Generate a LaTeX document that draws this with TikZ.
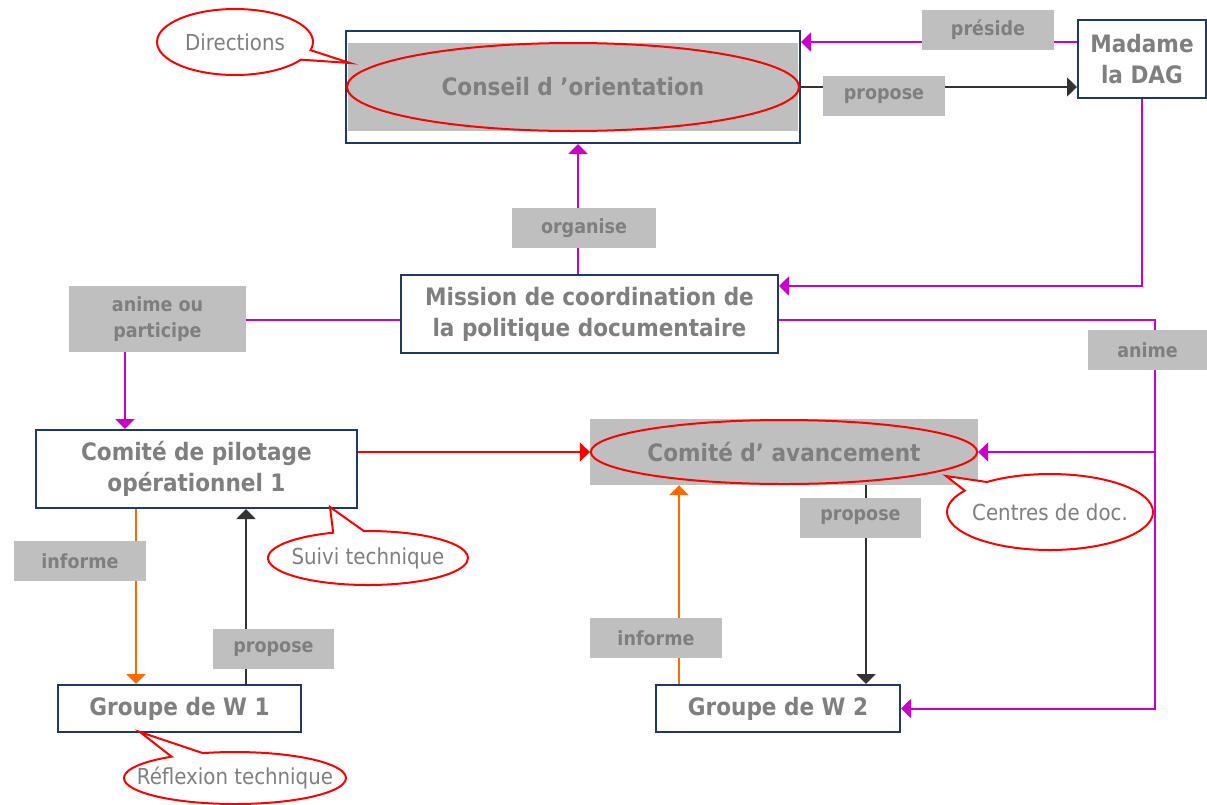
\documentclass[tikz,border=0pt]{standalone}
\usepackage{fontspec}
\setmainfont{DejaVu Sans Condensed}
\usetikzlibrary{arrows.meta,shapes.geometric,shapes.callouts}
\definecolor{bleuc}{HTML}{1F3864}
\definecolor{grisf}{HTML}{BFBFBF}
\definecolor{grist}{HTML}{7F7F7F}
\definecolor{magent}{HTML}{CC00CC}
\definecolor{orang}{HTML}{FF6A00}
\definecolor{noirf}{HTML}{333333}
\newcommand\txtboite{\fontsize{24}{31}\selectfont\bfseries}
\newcommand\txtetiq{\fontsize{19.5}{26}\selectfont\bfseries}
\newcommand\txtbulle{\fontsize{22}{26}\selectfont}

\begin{document}
\begin{tikzpicture}[x=1pt,y=-1pt,
  boite/.style={draw=bleuc,line width=2pt,fill=white,text=grist,font=\txtboite,align=center,inner sep=0pt},
  fond/.style={fill=grisf,inner sep=0pt},
  ovale/.style={ellipse,draw=red,line width=2pt,inner sep=0pt,text=grist,font=\txtboite},
  etiq/.style={fill=grisf,text=grist,font=\txtetiq,align=center,inner sep=0pt,minimum height=40pt},
  bulle/.style={ellipse callout,draw=red,line width=2pt,fill=white,text=grist,font=\txtbulle,inner sep=0pt,callout pointer arc=18},
  fl/.style={line width=2pt,-{Triangle[width=19pt,length=10pt]}}]
  \useasboundingbox (0,0) rectangle (1207,804);

  \node[boite,minimum width=454pt,minimum height=112pt] (conseil) at (573,87) {};
  \node[fond,minimum width=450pt,minimum height=88pt] (fondco) at (573,87) {};
  \node[ovale,minimum width=452pt,minimum height=88pt] (ellco) at (573,87) {Conseil d ’orientation};
  \node[boite,minimum width=128pt,minimum height=78pt] (dag) at (1142,59) {Madame\\la DAG};
  \node[boite,minimum width=377pt,minimum height=78pt] (mission) at (589.5,314) {Mission de coordination de\\la politique documentaire};
  \node[boite,minimum width=321pt,minimum height=78pt] (pilot) at (196.5,469) {Comité de pilotage\\opérationnel 1};
  \node[fond,minimum width=388pt,minimum height=66pt] (fondav) at (784,452) {};
  \node[ovale,minimum width=386pt,minimum height=64pt] (ellav) at (784,452) {Comité d’ avancement};
  \node[boite,minimum width=243pt,minimum height=47pt] (w1) at (179.5,708.5) {Groupe de W 1};
  \node[boite,minimum width=244pt,minimum height=47pt] (w2) at (778,708.5) {Groupe de W 2};

  \coordinate (dagp) at ([yshift=17pt]dag.west);
  \draw[fl,magent] (dagp) -- (dagp -| conseil.east);
  \draw[fl,noirf,line width=1.5pt] (conseil.east) -- (conseil.east -| dag.west);
  \draw[fl,magent] ([xshift=-11.5pt]mission.north) -- ([xshift=5pt]conseil.south);
  \draw[fl,magent] (dag.south) |- ([yshift=28pt]mission.east);
  \draw[fl,magent] ([yshift=-6pt]mission.west) -| ([xshift=-71.5pt]pilot.north);
  \coordinate (rail) at (1155,452);
  \draw[fl,magent] ([yshift=-6pt]mission.east) -| (rail) |- (w2.east);
  \draw[fl,magent] (rail) -- (ellav.east);
  \draw[fl,red,line width=1.5pt] ([yshift=17pt]pilot.east) -- (ellav.west);
  \draw[fl,orang] ([xshift=-60.5pt]pilot.south) -- ([xshift=-43.5pt]w1.north);
  \draw[fl,noirf] ([xshift=66.5pt]w1.north) -- ([xshift=49.5pt]pilot.south);
  \draw[fl,orang] ([xshift=-99pt]w2.north) -- ([xshift=-105pt]fondav.south);
  \draw[fl,noirf] ([xshift=82pt]fondav.south) -- ([xshift=88pt]w2.north);

  \node[etiq,minimum width=132pt] (lpreside) at (988,30) {préside};
  \node[etiq,minimum width=122pt] (lprop1) at (884,96) {propose};
  \node[etiq,minimum width=144pt] (lorg) at (584,228) {organise};
  \node[etiq,minimum width=177pt,minimum height=66pt] (lanime1) at (157.5,319) {anime ou\\participe};
  \node[etiq,minimum width=119pt] (lanime2) at (1147.5,350) {anime};
  \node[etiq,minimum width=121pt] (lprop2) at (860.5,517.5) {propose};
  \node[etiq,minimum width=132pt] (linf1) at (80,561) {informe};
  \node[etiq,minimum width=121pt] (lprop3) at (273.5,649) {propose};
  \node[etiq,minimum width=132pt] (linf2) at (656,638) {informe};

  \coordinate (pdir) at (350,63);
  \coordinate (psuivi) at (330,507);
  \coordinate (prefl) at (140,732);
  \coordinate (pcentres) at (946,476);
  \node[bulle,minimum width=156pt,minimum height=66pt,callout absolute pointer={(pdir)}] (bdir) at (235,42) {Directions};
  \node[bulle,minimum width=200pt,minimum height=54pt,callout absolute pointer={(psuivi)}] (bsuivi) at (368,558) {\makebox[140pt]{Suivi technique}};
  \node[bulle,minimum width=222pt,minimum height=52pt,callout absolute pointer={(prefl)}] (brefl) at (235,778) {\makebox[156pt]{Réflexion technique}};
  \node[bulle,minimum width=206pt,minimum height=76pt,callout absolute pointer={(pcentres)}] (bcentres) at (1050,512) {\makebox[144pt]{Centres de doc.}};
\end{tikzpicture}
\end{document}
